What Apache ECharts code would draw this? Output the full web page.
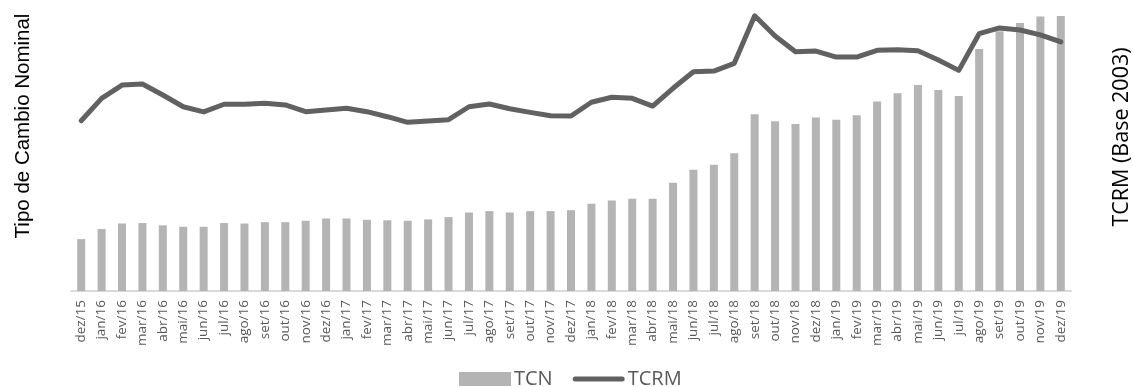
<!DOCTYPE html>
<html>
<head>
<meta charset="utf-8">
<script src="https://cdn.jsdelivr.net/npm/echarts@6/dist/echarts.min.js"></script>
<style>
    html, body {margin: 0; padding: 0; background: #fff;}
    #chart {width: 1133px; height: 387px;}
</style>
</head>
<body>
<div id="chart"></div>
<script>
// 月份
var months = ['dez/15',
    'jan/16', 'fev/16', 'mar/16', 'abr/16', 'mai/16', 'jun/16', 'jul/16', 'ago/16', 'set/16', 'out/16', 'nov/16', 'dez/16',
    'jan/17', 'fev/17', 'mar/17', 'abr/17', 'mai/17', 'jun/17', 'jul/17', 'ago/17', 'set/17', 'out/17', 'nov/17', 'dez/17',
    'jan/18', 'fev/18', 'mar/18', 'abr/18', 'mai/18', 'jun/18', 'jul/18', 'ago/18', 'set/18', 'out/18', 'nov/18', 'dez/18',
    'jan/19', 'fev/19', 'mar/19', 'abr/19', 'mai/19', 'jun/19', 'jul/19', 'ago/19', 'set/19', 'out/19', 'nov/19', 'dez/19'];

// 名义汇率 (柱)
var tcn = [11.3,
    13.5, 14.7, 14.8, 14.3, 14.0, 14.0, 14.8, 14.7, 15.0, 15.0, 15.3, 15.8,
    15.8, 15.5, 15.4, 15.3, 15.6, 16.1, 17.1, 17.4, 17.1, 17.4, 17.4, 17.6,
    19.0, 19.7, 20.1, 20.1, 23.6, 26.4, 27.5, 30.0, 38.5, 37.0, 36.4, 37.8,
    37.3, 38.3, 41.3, 43.1, 44.9, 43.8, 42.5, 52.7, 56.6, 58.4, 59.8, 59.9];

// 实际汇率 (线)
var tcrm = [121.6,
    137.6, 147.1, 147.9, 140.0, 131.6, 127.9, 133.4, 133.4, 134.1, 132.9, 128.1, 129.3,
    130.5, 128.1, 124.5, 120.5, 121.4, 122.4, 131.6, 133.6, 130.2, 127.6, 125.2, 125.0,
    134.8, 138.4, 137.6, 132.1, 144.8, 156.6, 157.1, 162.6, 196.6, 182.1, 170.9, 171.4,
    167.1, 167.1, 171.9, 172.4, 171.6, 165.0, 157.6, 183.8, 187.9, 186.4, 182.9, 177.9];

var leftName = 'Tipo de Cambio Nominal';
var rightName = 'TCRM (Base 2003)';

var lineColor = '#616161';
var barColor = '#b4b4b4';

var chart = echarts.init(document.getElementById('chart'));

var option = {
    animation: false,
    grid: {left: 71, right: 62, top: 11, bottom: 96},
    legend: {
        top: 369,
        left: 459,
        padding: 0,
        itemWidth: 52,
        itemHeight: 14,
        itemGap: 20,
        textStyle: {fontFamily: 'Open Sans', fontSize: 20, color: '#595959', padding: [0, 0, 0, -2]},
        data: [
            {name: 'TCN', icon: 'rect'},
            {name: 'TCRM', icon: 'path://M2.5,0 L49.5,0 A2.5,2.5 0 0 1 49.5,5 L2.5,5 A2.5,2.5 0 0 1 2.5,0 Z'}
        ]
    },
    xAxis: {
        type: 'category',
        data: months,
        axisLine: {lineStyle: {color: '#d9d9d9', width: 2}},
        axisTick: {show: false},
        axisLabel: {
            rotate: 90,
            interval: 0,
            margin: 9,
            fontFamily: 'Open Sans',
            fontSize: 13.5,
            color: '#595959'
        }
    },
    yAxis: [
        {type: 'value', min: 0, max: 61, show: false},
        {type: 'value', min: 0, max: 200, show: false}
    ],
    graphic: [
        {
            type: 'text', x: 23, y: 126, rotation: Math.PI / 2,
            style: {text: leftName, font: '20.5px "Liberation Sans"', fill: '#000', align: 'center', verticalAlign: 'middle'}
        },
        {
            type: 'text', x: 1122, y: 137, rotation: Math.PI / 2,
            style: {text: rightName, font: '21.5px "Open Sans"', fill: '#000', align: 'center', verticalAlign: 'middle'}
        }
    ],
    series: [
        {
            name: 'TCN',
            type: 'bar',
            barWidth: 8,
            itemStyle: {color: barColor},
            data: tcn
        },
        {
            name: 'TCRM',
            type: 'line',
            yAxisIndex: 1,
            symbol: 'none',
            lineStyle: {color: lineColor, width: 5, cap: 'round', join: 'round'},
            itemStyle: {color: lineColor},
            data: tcrm
        }
    ]
};

chart.setOption(option);
</script>
</body>
</html>
